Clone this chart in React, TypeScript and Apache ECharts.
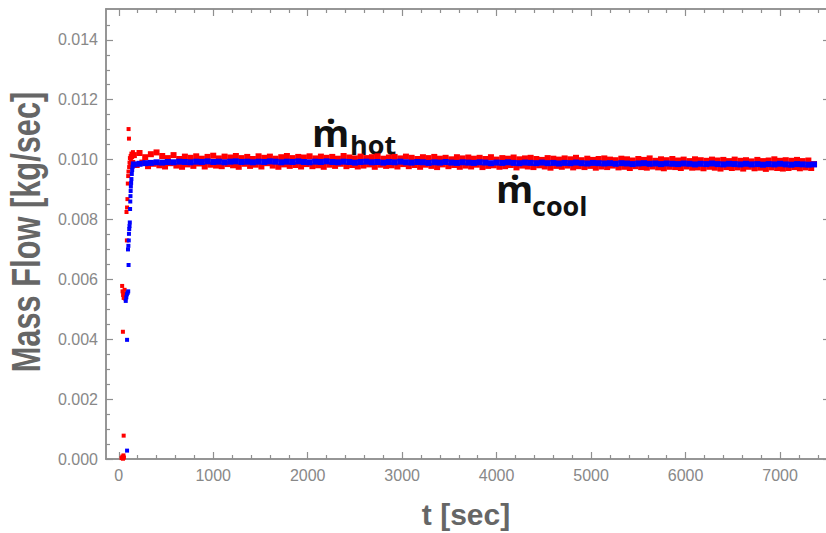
import React, { useEffect, useRef } from "react";
import * as echarts from "echarts";

// ---- axis ticks ----
const xMajorTicks = [0, 1000, 2000, 3000, 4000, 5000, 6000, 7000];
const xMinorTicks = [200, 400, 600, 800, 1200, 1400, 1600, 1800, 2200, 2400, 2600, 2800, 3200, 3400, 3600, 3800, 4200, 4400, 4600, 4800, 5200, 5400, 5600, 5800, 6200, 6400, 6600, 6800, 7200, 7400];
const yMajorTicks = [0, 0.002, 0.004, 0.006, 0.008, 0.01, 0.012, 0.014];
const yMinorTicks = [0.0005, 0.001, 0.0015, 0.0025, 0.003, 0.0035, 0.0045, 0.005, 0.0055, 0.0065, 0.007, 0.0075, 0.0085, 0.009, 0.0095, 0.0105, 0.011, 0.0115, 0.0125, 0.013, 0.0135, 0.0145];

// ---- hot stream (red) : start-up samples [t, kg/s] ----
const hotStartup: [number, number][] = [
  [30, 0.00003], [38, 0.00008], [45, 0.00001], [50, 0.00012], [55, 0.00005],
  [52, 0.00078], [44, 0.00425], [36, 0.00578], [40, 0.0056], [46, 0.00548],
  [52, 0.00538], [58, 0.00552], [62, 0.00565], [66, 0.00545], [70, 0.00535],
  [86, 0.0073], [82, 0.00825], [88, 0.0084], [92, 0.00868], [96, 0.0092],
  [100, 0.00945], [103, 0.0096], [104, 0.01102], [108, 0.0107], [110, 0.00975],
  [114, 0.0099], [118, 0.01005], [122, 0.00985], [126, 0.01012], [130, 0.00995],
  [134, 0.0102], [138, 0.00988], [142, 0.01008], [146, 0.0098], [150, 0.01025],
  [154, 0.00992],
];

// ---- hot stream (red) : steady samples every 30 s from t = 160 s ----
const hotSteadyStart = 160;
const hotSteadyStep = 30;
const hotSteady = [
  0.01015, 0.00982, 0.01022, 0.0099, 0.01008, 0.00978, 0.01018, 0.00986, 0.01024, 0.00981,
  0.01012, 0.00977, 0.01005, 0.00988, 0.01015, 0.0098, 0.01002, 0.00976, 0.0101, 0.00984,
  0.01006, 0.00979, 0.01011, 0.00987, 0.01003, 0.00977, 0.01009, 0.00983, 0.01013, 0.0098,
  0.01004, 0.00978, 0.0101, 0.00985, 0.01007, 0.00981, 0.01012, 0.00976, 0.01005, 0.00986,
  0.01009, 0.00979, 0.01002, 0.00983, 0.01011, 0.00977, 0.01006, 0.00988, 0.0101, 0.0098,
  0.01003, 0.00976, 0.01008, 0.00984, 0.01012, 0.00979, 0.01005, 0.00982, 0.01009, 0.00977,
  0.01007, 0.00985, 0.01011, 0.00978, 0.01004, 0.00981, 0.0101, 0.00976, 0.01006, 0.00983,
  0.01009, 0.00979, 0.01003, 0.00986, 0.01012, 0.00978, 0.01007, 0.00982, 0.01004, 0.00977,
  0.0101, 0.0098, 0.01005, 0.00984, 0.01008, 0.00976, 0.01011, 0.00983, 0.01003, 0.00979,
  0.01007, 0.00981, 0.01009, 0.00977, 0.01004, 0.00985, 0.0101, 0.00978, 0.01006, 0.00982,
  0.01002, 0.00976, 0.01008, 0.00983, 0.01005, 0.00979, 0.01009, 0.00975, 0.01003, 0.00984,
  0.01006, 0.00978, 0.01001, 0.00982, 0.01008, 0.00976, 0.01004, 0.0098, 0.01007, 0.00977,
  0.01003, 0.00983, 0.01006, 0.00975, 0.01002, 0.00979, 0.01008, 0.00981, 0.01, 0.00976,
  0.01005, 0.00978, 0.01003, 0.00982, 0.01007, 0.00974, 0.01001, 0.0098, 0.01004, 0.00977,
  0.01006, 0.00975, 0.01002, 0.00981, 0.00999, 0.00977, 0.01005, 0.00973, 0.01003, 0.00979,
  0.01, 0.00976, 0.01004, 0.0098, 0.01001, 0.00974, 0.01006, 0.00978, 0.00998, 0.00975,
  0.01003, 0.00979, 0.00999, 0.00973, 0.01002, 0.00977, 0.01004, 0.00975, 0.01, 0.0098,
  0.00998, 0.00974, 0.01003, 0.00976, 0.01001, 0.00972, 0.00997, 0.00978, 0.01002, 0.00975,
  0.00999, 0.00973, 0.01004, 0.00977, 0.00996, 0.00974, 0.01001, 0.00971, 0.00998, 0.00976,
  0.01002, 0.00975, 0.00997, 0.00972, 0.01, 0.00977, 0.00995, 0.00973, 0.01001, 0.00974,
  0.00998, 0.00971, 0.00996, 0.00976, 0.01, 0.00973, 0.00997, 0.0097, 0.00999, 0.00975,
  0.00995, 0.00972, 0.01, 0.00974, 0.00996, 0.0097, 0.00998, 0.00976, 0.00994, 0.00971,
  0.00999, 0.00973, 0.00995, 0.00969, 0.00997, 0.00974, 0.01001, 0.00972, 0.00996, 0.0097,
  0.00998, 0.00972, 0.00996, 0.00975, 0.00999, 0.00971, 0.00995, 0.00974, 0.00997, 0.00972,
  0.00985,
];

// ---- cool stream (blue) : start-up samples [t, kg/s] ----
const coolStartup: [number, number][] = [
  [88, 0.00028], [88, 0.00398], [74, 0.00528], [80, 0.0054], [86, 0.0055],
  [94, 0.00555], [100, 0.0056], [104, 0.00648], [98, 0.007], [102, 0.00712],
  [106, 0.0073], [108, 0.00752], [111, 0.00768], [114, 0.00778], [117, 0.0079],
  [120, 0.00835], [122, 0.0086], [124, 0.00878], [126, 0.00895], [128, 0.0091],
  [131, 0.00922], [134, 0.00935], [138, 0.00952], [142, 0.00965], [146, 0.00975],
  [150, 0.00982], [155, 0.00984],
];

// ---- cool stream (blue) : steady samples every 60 s from t = 160 s ----
const coolSteadyStart = 160;
const coolSteadyStep = 60;
const coolSteady = [
  0.00984, 0.00986, 0.00988, 0.00989, 0.00991, 0.0099, 0.00992, 0.00991, 0.00993, 0.00992, 0.00991, 0.00993,
  0.00992, 0.00994, 0.00992, 0.00993, 0.00991, 0.00993, 0.00994, 0.00992, 0.00993, 0.00991, 0.00993, 0.00992,
  0.00994, 0.00993, 0.00991, 0.00993, 0.00992, 0.00994, 0.00992, 0.00991, 0.00993, 0.00992, 0.00994, 0.00992,
  0.00991, 0.00993, 0.00992, 0.0099, 0.00992, 0.00993, 0.00991, 0.00992, 0.0099, 0.00992, 0.00991, 0.00993,
  0.00991, 0.0099, 0.00992, 0.00991, 0.00989, 0.00991, 0.0099, 0.00992, 0.0099, 0.00989, 0.00991, 0.0099,
  0.00989, 0.00991, 0.0099, 0.00988, 0.0099, 0.00989, 0.00991, 0.00989, 0.00988, 0.0099, 0.00989, 0.00988,
  0.0099, 0.00988, 0.00989, 0.00987, 0.00989, 0.00988, 0.0099, 0.00988, 0.00987, 0.00989, 0.00988, 0.00987,
  0.00988, 0.00986, 0.00988, 0.00987, 0.00985, 0.00987, 0.00988, 0.00986, 0.00987, 0.00985, 0.00987, 0.00986,
  0.00985, 0.00987, 0.00986, 0.00984, 0.00986, 0.00985, 0.00987, 0.00985, 0.00984, 0.00986, 0.00985, 0.00984,
  0.00986, 0.00984, 0.00985, 0.00983, 0.00985, 0.00984, 0.00986, 0.00984, 0.00983, 0.00985, 0.00984, 0.00983,
  0.00984,
];

const X_MIN = -135;
const X_MAX = 7529;
const Y_MIN = 0;
const Y_MAX = 0.01503;

const AXIS_COLOR = "#8f8f8f";
const LABEL_COLOR = "#888888";
const TITLE_COLOR = "#666666";

export default function App() {
  const ref = useRef<HTMLDivElement>(null);

  useEffect(() => {
    if (!ref.current) return;
    const chart = echarts.init(ref.current, undefined, { renderer: "svg" });

    const hotSteadyData = hotSteady.map((v, i) => [hotSteadyStart + i * hotSteadyStep, v]);
    const coolSteadyData = coolSteady.map((v, i) => [coolSteadyStart + i * coolSteadyStep, v]);

    const lineStyle = { color: AXIS_COLOR, width: 1.5 };

    const xAxisBase = (position: "top" | "bottom", ticks: number[], len: number, labels: boolean, name?: string) => ({
      type: "value" as const,
      position,
      min: X_MIN,
      max: X_MAX,
      axisLine: { show: true, onZero: false, lineStyle },
      axisTick: { show: true, inside: true, length: len, customValues: ticks, lineStyle: { color: AXIS_COLOR, width: 1.2 } },
      axisLabel: labels
        ? {
            show: true,
            customValues: ticks,
            color: LABEL_COLOR,
            fontFamily: "'Liberation Sans', Arial, sans-serif",
            fontSize: 16,
            margin: 8,
            formatter: (v: number) => String(v),
          }
        : { show: false },
      splitLine: { show: false },
      ...(name
        ? {
            name,
            nameLocation: "middle" as const,
            nameGap: 40,
            nameTextStyle: {
              color: TITLE_COLOR,
              fontFamily: "'Liberation Sans', Arial, sans-serif",
              fontWeight: "bold" as const,
              fontSize: 30,
              padding: [0, 4, 0, 0],
            },
          }
        : {}),
    });

    const yAxisBase = (position: "left" | "right", ticks: number[], len: number, labels: boolean) => ({
      type: "value" as const,
      position,
      min: Y_MIN,
      max: Y_MAX,
      axisLine: { show: true, onZero: false, lineStyle },
      axisTick: { show: true, inside: true, length: len, customValues: ticks, lineStyle: { color: AXIS_COLOR, width: 1.2 } },
      axisLabel: labels
        ? {
            show: true,
            customValues: ticks,
            color: LABEL_COLOR,
            fontFamily: "'Liberation Sans', Arial, sans-serif",
            fontSize: 16,
            margin: 8,
            formatter: (v: number) => v.toFixed(3),
          }
        : { show: false },
      splitLine: { show: false },
    });

    const annFont = "'Open Sans', 'Noto Sans', sans-serif";

    chart.setOption({
      animation: false,
      backgroundColor: "#ffffff",
      grid: { left: 106, right: -4, top: 9, bottom: 74, containLabel: false, outerBoundsMode: "none" },
      xAxis: [
        xAxisBase("bottom", xMajorTicks, 7, true, "t [sec]"),
        xAxisBase("bottom", xMinorTicks, 4, false),
        xAxisBase("top", xMajorTicks, 7, false),
        xAxisBase("top", xMinorTicks, 4, false),
      ],
      yAxis: [
        yAxisBase("left", yMajorTicks, 7, true),
        yAxisBase("left", yMinorTicks, 4, false),
        yAxisBase("right", yMajorTicks, 7, false),
        yAxisBase("right", yMinorTicks, 4, false),
      ],
      series: [
        {
          type: "scatter",
          name: "hot start-up",
          symbol: "rect",
          symbolSize: 4,
          itemStyle: { color: "#ff0000", opacity: 1 },
          data: hotStartup,
        },
        {
          type: "scatter",
          name: "hot",
          symbol: "rect",
          symbolSize: 6,
          itemStyle: { color: "#ff0000", opacity: 1 },
          data: hotSteadyData,
        },
        {
          type: "scatter",
          name: "cool start-up",
          symbol: "rect",
          symbolSize: 4,
          itemStyle: { color: "#0000ff", opacity: 1 },
          data: coolStartup,
        },
        {
          type: "scatter",
          name: "cool",
          symbol: "rect",
          symbolSize: 6,
          itemStyle: { color: "#0000ff", opacity: 1 },
          data: coolSteadyData,
        },
      ],
      graphic: [
        {
          type: "text",
          x: 27,
          y: 232,
          rotation: Math.PI / 2,
          scaleX: 0.77,
          style: {
            text: "Mass Flow [kg/sec]",
            x: 0,
            y: 0,
            align: "center",
            verticalAlign: "middle",
            font: "bold 40px 'Liberation Sans', Arial, sans-serif",
            fill: TITLE_COLOR,
          },
        },
        {
          type: "text",
          left: 312,
          top: 113,
          style: { text: "ṁ", font: `bold 38px ${annFont}`, fill: "#111111" },
        },
        {
          type: "text",
          left: 350,
          top: 131,
          style: { text: "hot", font: `bold 27px ${annFont}`, fill: "#111111" },
        },
        {
          type: "text",
          left: 496,
          top: 169,
          style: { text: "ṁ", font: `bold 38px ${annFont}`, fill: "#111111" },
        },
        {
          type: "text",
          left: 532,
          top: 192,
          style: { text: "cool", font: `bold 27px ${annFont}`, fill: "#111111" },
        },
      ],
    });

    return () => chart.dispose();
  }, []);

  return (
    <div
      ref={ref}
      style={{ position: "fixed", left: 0, top: 0, width: 826, height: 533, background: "#fff" }}
    />
  );
}
